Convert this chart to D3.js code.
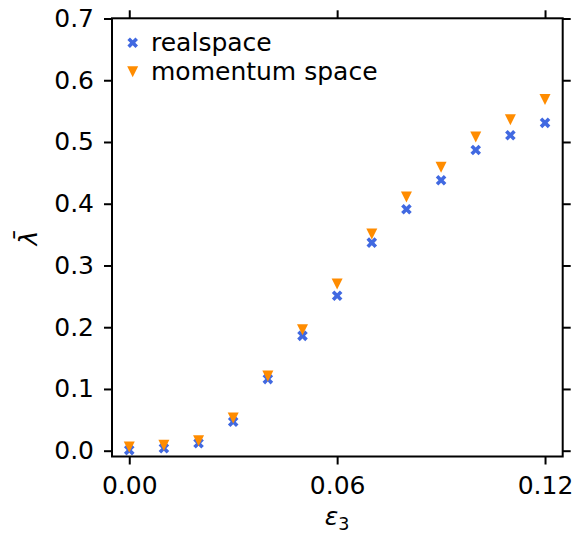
<!DOCTYPE html>
<html>
<head>
<meta charset="utf-8">
<script src="https://cdn.jsdelivr.net/npm/d3@7"></script>
<style>
  html, body { margin: 0; padding: 0; background: #fff; }
  svg { display: block; }
  text { font-family: "DejaVu Sans", sans-serif; fill: #000; }
</style>
</head>
<body>
<svg id="chart" width="573" height="533"></svg>
<script>
// ---- data ----
const eps3 = [0.00, 0.01, 0.02, 0.03, 0.04, 0.05, 0.06, 0.07, 0.08, 0.09, 0.10, 0.11, 0.12];
const realspace = [0.001, 0.004, 0.012, 0.047, 0.116, 0.186, 0.251, 0.337, 0.391, 0.438, 0.487, 0.511, 0.531];
const momentumSpace = [0.006, 0.009, 0.016, 0.053, 0.121, 0.196, 0.270, 0.351, 0.411, 0.459, 0.508, 0.536, 0.569];
const xTicks = [0.00, 0.06, 0.12];
const xTickLabels = ["0.00", "0.06", "0.12"];
const yTicks = [0.0, 0.1, 0.2, 0.3, 0.4, 0.5, 0.6, 0.7];
const yTickLabels = ["0.0", "0.1", "0.2", "0.3", "0.4", "0.5", "0.6", "0.7"];
const seriesNames = ["realspace", "momentum space"];
const seriesColors = ["#4169E1", "#FF8C00"];

// ---- layout ----
const L = 112, R = 562.7, T = 18.3, B = 456.5;
const FS = 25;

const svg = d3.select("#chart");

const x = d3.scaleLinear().domain([-0.00498, 0.1251]).range([L, R]);
const y = d3.scaleLinear().domain([0.0, 0.7]).range([450.7, 18.5]);

// marker shapes
const xMarker = {
  draw(ctx, size) {
    const r = Math.sqrt(size) / 2, d = r * 0.48;
    ctx.moveTo(0, -d);
    ctx.lineTo(r - d, -r); ctx.lineTo(r, -r + d); ctx.lineTo(d, 0);
    ctx.lineTo(r, r - d); ctx.lineTo(r - d, r); ctx.lineTo(0, d);
    ctx.lineTo(-r + d, r); ctx.lineTo(-r, r - d); ctx.lineTo(-d, 0);
    ctx.lineTo(-r, -r + d); ctx.lineTo(-r + d, -r);
    ctx.closePath();
  }
};
const triDown = {
  draw(ctx, size) {
    const r = Math.sqrt(size) / 2;
    ctx.moveTo(0, r); ctx.lineTo(-r, -r); ctx.lineTo(r, -r); ctx.closePath();
  }
};
const xSym = d3.symbol().type(xMarker).size(10.6 * 10.6);
const triSym = d3.symbol().type(triDown).size(11 * 11);

// ---- data points ----
const realData = eps3.map((e, i) => ({ e, v: realspace[i] }));
const momData = eps3.map((e, i) => ({ e, v: momentumSpace[i] }));

svg.append("g").selectAll("path").data(realData).join("path")
  .attr("d", xSym)
  .attr("transform", d => `translate(${x(d.e)},${y(d.v)})`)
  .attr("fill", seriesColors[0]);

svg.append("g").selectAll("path").data(momData).join("path")
  .attr("d", triSym)
  .attr("transform", d => `translate(${x(d.e)},${y(d.v)})`)
  .attr("fill", seriesColors[1]);

// ---- axes ----
const axB = svg.append("g").attr("transform", `translate(0,${B})`)
  .call(d3.axisBottom(x).tickValues(xTicks).tickFormat((d, i) => xTickLabels[i]).tickSize(8).tickPadding(12));
const axT = svg.append("g").attr("transform", `translate(0,${T})`)
  .call(d3.axisTop(x).tickValues(xTicks).tickFormat("").tickSize(8));
const axLf = svg.append("g").attr("transform", `translate(${L},0)`)
  .call(d3.axisLeft(y).tickValues(yTicks).tickFormat((d, i) => yTickLabels[i]).tickSize(8).tickPadding(10));
const axRt = svg.append("g").attr("transform", `translate(${R},0)`)
  .call(d3.axisRight(y).tickValues(yTicks).tickFormat("").tickSize(8));

[axB, axT, axLf, axRt].forEach(g => {
  g.select(".domain").remove();
  g.selectAll(".tick line").attr("stroke", "#000").attr("stroke-width", 2);
  g.selectAll(".tick text").attr("font-family", "DejaVu Sans").attr("font-size", FS).attr("fill", "#000");
});

// frame
svg.append("rect").attr("x", L).attr("y", T).attr("width", R - L).attr("height", B - T)
  .attr("fill", "none").attr("stroke", "#000").attr("stroke-width", 2);

// ---- axis labels ----
const xl = svg.append("text").attr("x", 337).attr("y", 525).attr("text-anchor", "middle")
  .attr("font-size", FS);
xl.append("tspan").attr("font-style", "italic").text("ε");
xl.append("tspan").attr("font-size", FS * 0.7).attr("dy", 5).text("3");

svg.append("text").attr("transform", "translate(36.5,238) rotate(-90)")
  .attr("text-anchor", "middle").attr("font-size", FS).attr("font-style", "italic")
  .text("λ\u0304");

// ---- legend ----
const leg = svg.append("g");
const legY = [42.7, 71.7];
leg.append("path").attr("d", xSym).attr("transform", `translate(132.7,${legY[0]})`).attr("fill", seriesColors[0]);
leg.append("path").attr("d", triSym).attr("transform", `translate(132.7,${legY[1]})`).attr("fill", seriesColors[1]);
seriesNames.forEach((n, i) => {
  leg.append("text").attr("x", 151).attr("y", legY[i] + 8).attr("font-size", FS).text(n);
});
</script>
</body>
</html>
